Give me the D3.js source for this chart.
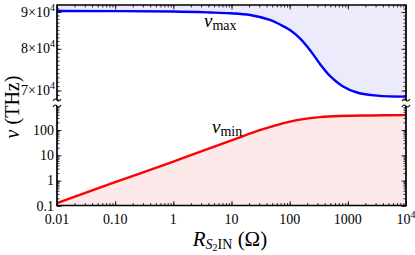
<!doctype html>
<html>
<head>
<meta charset="utf-8">
<title>nu vs R</title>
<style>
  body { margin: 0; background: #fff; }
  text { font-family: "Liberation Serif", serif; fill: #000; }
</style>
</head>
<body>
<svg id="chart" width="415" height="255"></svg>
<script src="https://d3js.org/d3.v7.min.js"></script>
<script>
// data
const rMin = [0.01, 0.1, 1, 10, 30.5, 55.6, 101, 182, 329, 728, 2400, 10000];
const nuMin = [0.131, 0.87, 5.7, 38.7, 98, 150, 215, 275, 323, 356, 374, 386];
const rMax = [0.01, 1, 4.27, 9.4, 20.8, 45.9, 67.8, 101, 150, 223, 332, 493, 826, 1437, 3170, 10000];
const nuMax = [90280, 90140, 89860, 89630, 89130, 87730, 86470, 84970, 82740, 79710, 76210, 73340, 70900, 69550, 68850, 68630];
const xTicks = [0.01, 0.1, 1, 10, 100, 1000, 10000];
const xTickLabels = ["0.01", "0.10", "1", "10", "100", "1000", "10^4"];
const upperTicks = [70000, 80000, 90000];
const upperTickLabels = ["7", "8", "9"];
const lowerTicks = [0.1, 1, 10, 100];
const lowerTickLabels = ["0.1", "1", "10", "100"];

const svg = d3.select("#chart");
const pLeft = 57, pRight = 406, pTop = 5, pBottom = 205.5;
const upBottom = 100, lowTop = 106;

const x = d3.scaleLog().domain([0.01, 10000]).range([pLeft, pRight]);
const yUp = d3.scaleLog().domain([70000, 90000]).range([90.5, 12]);
const yLow = d3.scaleLog().domain([0.1, 100]).range([206, 130]);
const smooth = d3.curveCatmullRom.alpha(0.5);

// fills
const areaUp = d3.area().x((d, i) => x(rMax[i])).y0(pTop).y1(d => yUp(d)).curve(smooth);
svg.append("path").datum(nuMax).attr("d", areaUp).attr("fill", "#ebebfb");
const areaLow = d3.area().x((d, i) => x(rMin[i])).y0(pBottom).y1(d => yLow(d)).curve(smooth);
svg.append("path").datum(nuMin).attr("d", areaLow).attr("fill", "#fde9e9");

// ticks
function minorLog(lo, hi) {
  let out = [];
  for (let e = Math.floor(Math.log10(lo)); e <= Math.ceil(Math.log10(hi)); e++)
    for (let m = 1; m < 10; m++) {
      const v = m * Math.pow(10, e);
      if (v >= lo && v <= hi) out.push(v);
    }
  return out;
}
function drawTicks(axis, values, size, tr) {
  const g = svg.append("g").attr("transform", tr)
    .call(axis.tickValues(values).tickSizeInner(-size).tickSizeOuter(0).tickFormat(""));
  g.select(".domain").remove();
  g.selectAll("line").attr("stroke", "#000").attr("stroke-width", 0.8);
}
const xMinor = minorLog(0.01, 10000);
drawTicks(d3.axisBottom(x), xMinor, 2.5, `translate(0,${pBottom})`);
drawTicks(d3.axisBottom(x), xTicks, 4.5, `translate(0,${pBottom})`);
drawTicks(d3.axisTop(x), xMinor, 2.5, `translate(0,${pTop})`);
drawTicks(d3.axisTop(x), xTicks, 4.5, `translate(0,${pTop})`);

const upMinor = d3.range(66000, 95000, 1000).filter(v => yUp(v) > pTop + 1 && yUp(v) < upBottom);
const lowMinor = minorLog(0.1, 1000).filter(v => yLow(v) > lowTop && yLow(v) < pBottom - 1);
[[d3.axisLeft, pLeft], [d3.axisRight, pRight]].forEach(([ax, px]) => {
  drawTicks(ax(yUp), upMinor, 2.5, `translate(${px},0)`);
  drawTicks(ax(yUp), upperTicks, 4.5, `translate(${px},0)`);
  drawTicks(ax(yLow), lowMinor, 2.5, `translate(${px},0)`);
  drawTicks(ax(yLow), lowerTicks, 4.5, `translate(${px},0)`);
});

// curves
const lineUp = d3.line().x((d, i) => x(rMax[i])).y(d => yUp(d)).curve(smooth);
svg.append("path").datum(nuMax).attr("d", lineUp).attr("fill", "none").attr("stroke", "#0000ff").attr("stroke-width", 2.4);
const lineLow = d3.line().x((d, i) => x(rMin[i])).y(d => yLow(d)).curve(smooth);
svg.append("path").datum(nuMin).attr("d", lineLow).attr("fill", "none").attr("stroke", "#ff0000").attr("stroke-width", 2.4);

// frame with axis break
const frame = svg.append("g").attr("fill", "none").attr("stroke", "#000").attr("stroke-width", 1.7);
frame.append("path").attr("d", `M${pLeft},${upBottom}V${pTop}H${pRight}V${upBottom}`);
frame.append("path").attr("d", `M${pLeft},${lowTop}V${pBottom}H${pRight}V${lowTop}`);
[pLeft, pRight].forEach(px => {
  [upBottom, lowTop].forEach(py => {
    frame.append("path").attr("stroke-width", 1.1)
      .attr("d", `M${px - 4},${py + 1}c1.5,-2.5 2.5,-2.5 4,-1s2.5,1.5 4,-1`);
  });
});

// tick labels
const xl = svg.append("g").attr("font-size", 14).attr("text-anchor", "middle");
xTicks.forEach((v, i) => {
  const t = xl.append("text").attr("x", x(v)).attr("y", 224);
  const lab = xTickLabels[i];
  if (lab.includes("^")) {
    const [b, e] = lab.split("^");
    t.append("tspan").text(b);
    t.append("tspan").attr("font-size", 10).attr("dy", -6).text(e);
  } else t.text(lab);
});
const yl = svg.append("g").attr("font-size", 14).attr("text-anchor", "end");
upperTicks.forEach((v, i) => {
  const t = yl.append("text").attr("x", 55).attr("y", yUp(v) + 4.5);
  t.append("tspan").text(upperTickLabels[i] + "×10");
  t.append("tspan").attr("font-size", 10).attr("dy", -6).text("4");
});
lowerTicks.forEach((v, i) => {
  yl.append("text").attr("x", 54).attr("y", yLow(v) + 4.5).text(lowerTickLabels[i]);
});

// axis titles
const xt = svg.append("text").attr("x", 230).attr("y", 246).attr("text-anchor", "middle").attr("font-size", 21);
xt.append("tspan").attr("font-style", "italic").text("R");
xt.append("tspan").attr("font-style", "italic").attr("font-size", 14).attr("dy", 3).text("S");
xt.append("tspan").attr("font-size", 10).attr("dy", 2).text("2");
xt.append("tspan").attr("font-size", 14).attr("dy", -2).text("IN");
xt.append("tspan").attr("dy", -3).text(" (Ω)");

const yt = svg.append("text").attr("transform", "translate(19,107) rotate(-90)").attr("text-anchor", "middle").attr("font-size", 20);
yt.append("tspan").attr("font-style", "italic").text("ν");
yt.append("tspan").text(" (THz)");

// curve labels
const lm = svg.append("text").attr("x", 204).attr("y", 27).attr("font-size", 19);
lm.append("tspan").attr("font-style", "italic").text("ν");
lm.append("tspan").attr("font-size", 14).attr("dy", 3).text("max");
const ln = svg.append("text").attr("x", 212).attr("y", 133).attr("font-size", 19);
ln.append("tspan").attr("font-style", "italic").text("ν");
ln.append("tspan").attr("font-size", 14).attr("dy", 3).text("min");
</script>
</body>
</html>
